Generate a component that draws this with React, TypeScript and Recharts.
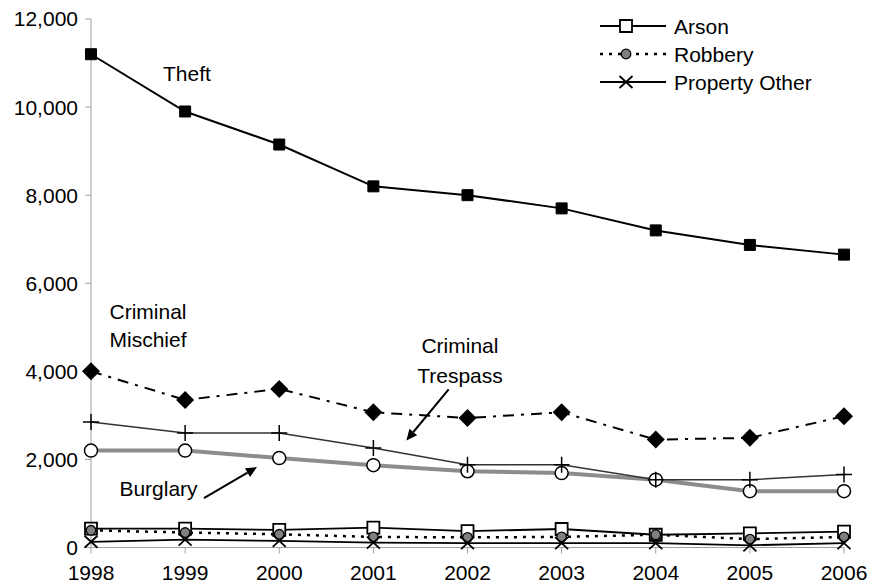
import React from "react";
import {
  LineChart,
  Line,
  XAxis,
  YAxis,
  Legend,
  ReferenceDot,
  ReferenceLine,
} from "recharts";

const years = [1998, 1999, 2000, 2001, 2002, 2003, 2004, 2005, 2006];
const theft = [11200, 9900, 9150, 8200, 8000, 7700, 7200, 6870, 6650];
const mischief = [4000, 3350, 3600, 3070, 2940, 3070, 2450, 2490, 2980];
const trespass = [2850, 2600, 2600, 2260, 1880, 1880, 1540, 1540, 1660];
const burglary = [2200, 2200, 2030, 1870, 1730, 1690, 1540, 1280, 1280];
const arson = [430, 430, 400, 450, 370, 420, 290, 320, 360];
const robbery = [390, 340, 300, 240, 230, 240, 290, 190, 240];
const propertyOther = [130, 180, 150, 110, 100, 100, 100, 50, 100];

const yTicks = [0, 2000, 4000, 6000, 8000, 10000, 12000];
const legendOrder = ["arson", "robbery", "propertyOther"];

const data = years.map((year, i) => ({
  year,
  theft: theft[i],
  mischief: mischief[i],
  trespass: trespass[i],
  burglary: burglary[i],
  arson: arson[i],
  robbery: robbery[i],
  propertyOther: propertyOther[i],
}));

const FONT = "'Liberation Sans', Arial, sans-serif";
const AXIS = "#a0a0a0";

// annotation anchors (data coordinates)
const notes = [
  { text: "Theft", x: 1998.765, y: 10760, anchor: "start" },
  { text: "Criminal", x: 1998.606, y: 5349, anchor: "middle" },
  { text: "Mischief", x: 1998.606, y: 4730, anchor: "middle" },
  { text: "Criminal", x: 2001.92, y: 4594, anchor: "middle" },
  { text: "Trespass", x: 2001.92, y: 3913, anchor: "middle" },
  { text: "Burglary", x: 1998.717, y: 1350, anchor: "middle" },
];
const arrows = [
  { from: { x: 2001.8, y: 3590 }, to: { x: 2001.35, y: 2430 } },
  { from: { x: 1999.2, y: 1123 }, to: { x: 1999.764, y: 1826 } },
];

const sq = (cx: number, cy: number, s: number) =>
  `M${cx - s / 2},${cy - s / 2}h${s}v${s}h${-s}Z`;

const FilledSquare = (p: any) => (
  <path key={p.key ?? `fs${p.index}`} d={sq(p.cx, p.cy, 11)} fill="#000" stroke="#000" strokeWidth={1} />
);
const OpenSquare = (p: any) => (
  <path key={p.key ?? `os${p.index}`} d={sq(p.cx, p.cy, 12)} fill="#fff" stroke="#000" strokeWidth={1.8} />
);
const Diamond = (p: any) => (
  <path
    key={p.key ?? `dm${p.index}`}
    d={`M${p.cx},${p.cy - 9}L${p.cx + 9},${p.cy}L${p.cx},${p.cy + 9}L${p.cx - 9},${p.cy}Z`}
    fill="#000"
  />
);
const Plus = (p: any) => (
  <path
    key={p.key ?? `pl${p.index}`}
    d={`M${p.cx - 8},${p.cy}H${p.cx + 8}M${p.cx},${p.cy - 8}V${p.cy + 8}`}
    stroke="#000"
    strokeWidth={1.5}
    fill="none"
  />
);
const OpenCircle = (p: any) => (
  <circle key={p.key ?? `oc${p.index}`} cx={p.cx} cy={p.cy} r={6.5} fill="#fff" stroke="#000" strokeWidth={1.5} />
);
const GrayCircle = (p: any) => (
  <circle key={p.key ?? `gc${p.index}`} cx={p.cx} cy={p.cy} r={4.8} fill="#808080" stroke="#000" strokeWidth={1.3} />
);
const Cross = (p: any) => (
  <path
    key={p.key ?? `cr${p.index}`}
    d={`M${p.cx - 6.5},${p.cy - 6}L${p.cx + 6.5},${p.cy + 6}M${p.cx + 6.5},${p.cy - 6}L${p.cx - 6.5},${p.cy + 6}`}
    stroke="#000"
    strokeWidth={1.8}
    fill="none"
  />
);

const legendItems: Record<string, { dash?: string; marker: (cx: number, cy: number) => React.ReactNode }> = {
  arson: { marker: (cx, cy) => <OpenSquare cx={cx} cy={cy} index={0} /> },
  robbery: { dash: "3 6", marker: (cx, cy) => <GrayCircle cx={cx} cy={cy} index={0} /> },
  propertyOther: { marker: (cx, cy) => <Cross cx={cx} cy={cy} index={0} /> },
};

const LegendContent = (props: any) => {
  const payload = (props.payload || [])
    .filter((p: any) => legendItems[p.dataKey])
    .sort((a: any, b: any) => legendOrder.indexOf(a.dataKey) - legendOrder.indexOf(b.dataKey));
  return (
    <svg width={270} height={95} style={{ display: "block" }}>
      {payload.map((p: any, i: number) => {
        const it = legendItems[p.dataKey];
        const cy = 16 + i * 28;
        return (
          <g key={p.dataKey}>
            <line x1={2} y1={cy} x2={68} y2={cy} stroke="#000" strokeWidth={it.dash ? 2.5 : 1.8} strokeDasharray={it.dash} />
            {it.marker(28, cy)}
            <text x={76} y={cy} dy="0.36em" fontSize={21} fontFamily={FONT} fill="#000">
              {p.value}
            </text>
          </g>
        );
      })}
    </svg>
  );
};

const NoteShape = (text: string, anchor: string) => (p: any) => (
  <text
    x={p.cx}
    y={p.cy}
    dy="0.36em"
    textAnchor={anchor as any}
    fontSize={21}
    fontFamily={FONT}
    fill="#000"
  >
    {text}
  </text>
);

const ArrowShape = (p: any) => {
  const { x1, y1, x2, y2 } = p;
  const dx = x2 - x1;
  const dy = y2 - y1;
  const len = Math.sqrt(dx * dx + dy * dy) || 1;
  const ux = dx / len;
  const uy = dy / len;
  const hl = 11;
  const hw = 5;
  const bx = x2 - ux * hl;
  const by = y2 - uy * hl;
  return (
    <g>
      <line x1={x1} y1={y1} x2={bx} y2={by} stroke="#000" strokeWidth={2} />
      <path
        d={`M${x2},${y2}L${bx - uy * hw},${by + ux * hw}L${bx + uy * hw},${by - ux * hw}Z`}
        fill="#000"
      />
    </g>
  );
};

export default function App() {
  return (
    <div>
      <style>{`body{margin:0;}`}</style>
      <LineChart
        width={869}
        height={586}
        data={data}
        margin={{ top: 19, right: 25, bottom: 8.5, left: 0 }}
      >
        <XAxis
          dataKey="year"
          type="number"
          domain={[1998, 2006]}
          ticks={years}
          allowDecimals={false}
          height={30}
          stroke={AXIS}
          tickSize={6}
          tickMargin={12}
          tick={{ fill: "#000", fontSize: 21, fontFamily: FONT }}
        />
        <YAxis
          domain={[0, 12000]}
          ticks={yTicks}
          width={91}
          stroke={AXIS}
          tickSize={6}
          tickMargin={7}
          tickFormatter={(v: number) => v.toLocaleString("en-US")}
          tick={{ fill: "#000", fontSize: 21, fontFamily: FONT }}
        />
        <Legend
          layout="horizontal"
          verticalAlign="middle"
          align="center"
          wrapperStyle={{ top: 10, left: 598, width: 270, height: 95 }}
          content={<LegendContent />}
        />
        <Line dataKey="arson" name="Arson" stroke="#000" strokeWidth={1.8} dot={OpenSquare} isAnimationActive={false} />
        <Line dataKey="robbery" name="Robbery" stroke="#000" strokeWidth={2.5} strokeDasharray="3 6" dot={GrayCircle} isAnimationActive={false} />
        <Line dataKey="propertyOther" name="Property Other" stroke="#000" strokeWidth={1.8} dot={Cross} isAnimationActive={false} />
        <Line dataKey="burglary" name="Burglary" stroke="#8c8c8c" strokeWidth={4} dot={OpenCircle} legendType="none" isAnimationActive={false} />
        <Line dataKey="trespass" name="Criminal Trespass" stroke="#333" strokeWidth={1.5} dot={Plus} legendType="none" isAnimationActive={false} />
        <Line dataKey="mischief" name="Criminal Mischief" stroke="#000" strokeWidth={2} strokeDasharray="11 7 3 7" dot={Diamond} legendType="none" isAnimationActive={false} />
        <Line dataKey="theft" name="Theft" stroke="#000" strokeWidth={2} dot={FilledSquare} legendType="none" isAnimationActive={false} />
        {notes.map((n, i) => (
          <ReferenceDot key={`n${i}`} x={n.x} y={n.y} r={0} shape={NoteShape(n.text, n.anchor)} />
        ))}
        {arrows.map((a, i) => (
          <ReferenceLine key={`a${i}`} segment={[a.from, a.to]} shape={ArrowShape} />
        ))}
      </LineChart>
    </div>
  );
}
